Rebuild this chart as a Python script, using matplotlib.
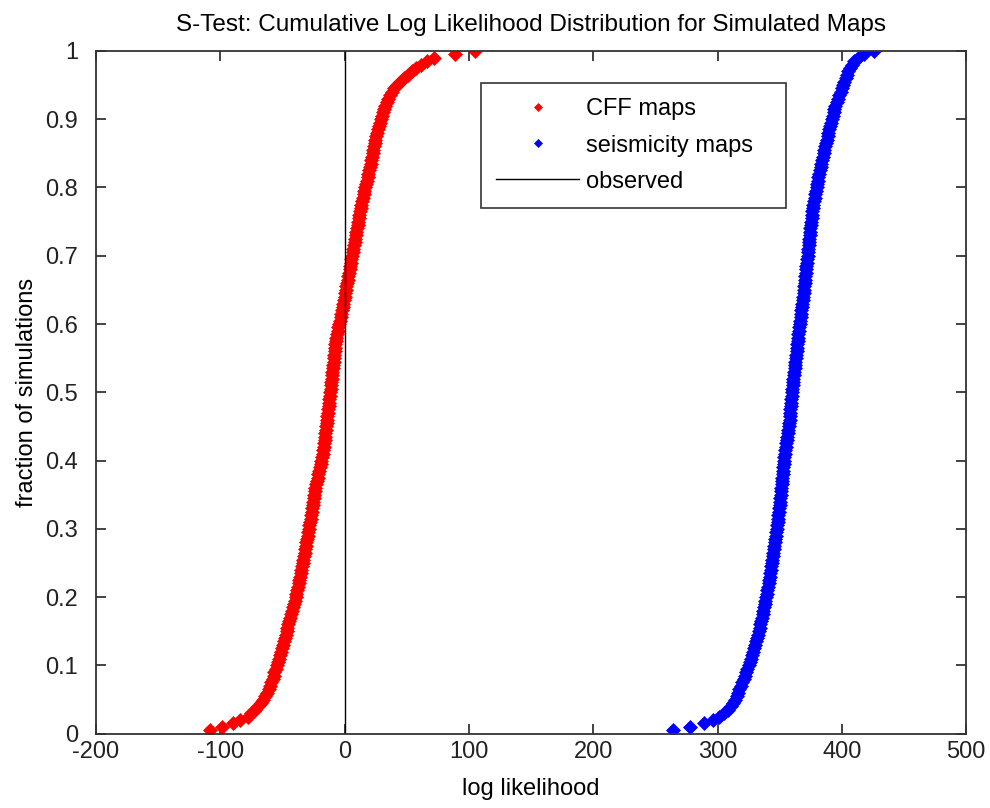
import numpy as np
import matplotlib.pyplot as plt

plt.rcParams['font.family'] = ['Liberation Sans', 'DejaVu Sans']
plt.rcParams['axes.unicode_minus'] = False

# sorted log likelihoods of the simulated catalogues (200 each)
cff_ll = [
    -108, -99, -90, -84, -78, -75, -72, -70, -67.5, -65.5,
    -64, -62.5, -61, -60, -59, -58, -57, -56.5, -55.5, -54.5,
    -53.5, -52.5, -51.8, -51, -50.2, -49.5, -48.8, -48, -47.3, -46.6,
    -46, -45.3, -44.6, -43.9, -43.2, -42.5, -41.8, -41, -40.3, -39.5,
    -38.8, -38, -37.5, -37, -36.4, -35.9, -35.3, -34.8, -34.2, -33.7,
    -33.2, -32.8, -32.3, -31.8, -31.3, -30.8, -30.3, -29.8, -29.3, -28.8,
    -28.3, -27.9, -27.4, -27, -26.6, -26.1, -25.7, -25.3, -24.9, -24.5,
    -24.1, -23.5, -22.9, -22.3, -21.7, -21.1, -20.5, -19.9, -19.3, -18.7,
    -18.2, -17.7, -17.3, -16.9, -16.5, -16.1, -15.8, -15.5, -15.1, -14.8,
    -14.5, -14.2, -13.9, -13.6, -13.2, -12.9, -12.6, -12.3, -12, -11.6,
    -11.3, -11, -10.7, -10.4, -10.1, -9.8, -9.5, -9.2, -8.9, -8.6,
    -8.3, -8, -7.7, -7.4, -7.1, -6.6, -6.1, -5.5, -5, -4.4,
    -3.9, -3.3, -2.8, -2.2, -1.7, -1.2, -0.6, -0.1, 0.4, 0.9,
    1.4, 1.9, 2.5, 3, 3.5, 4, 4.5, 5, 5.5, 6,
    6.5, 7, 7.5, 8, 8.4, 8.9, 9.4, 9.9, 10.4, 10.9,
    11.4, 11.9, 12.4, 12.9, 13.4, 14, 14.6, 15.3, 15.9, 16.5,
    17.2, 17.8, 18.5, 19.1, 19.8, 20.3, 20.9, 21.4, 22, 22.5,
    23.1, 23.6, 24.2, 24.7, 25.4, 26.1, 26.8, 27.6, 28.3, 29.1,
    30, 30.8, 31.6, 32.5, 33.8, 35.2, 36.6, 38.2, 39.8, 42,
    44.8, 47.6, 50.6, 53.8, 57.5, 61.5, 66, 72, 89, 105,
]

seis_ll = [
    264, 278, 289, 296, 301, 305, 308, 310.5, 312.5, 314,
    315.3, 316.5, 317.6, 318.8, 319.9, 321, 322, 323, 324, 325,
    325.9, 326.8, 327.7, 328.5, 329.3, 330.1, 330.8, 331.6, 332.3, 333,
    333.7, 334.4, 335.1, 335.7, 336.3, 336.9, 337.5, 338, 338.5, 339,
    339.5, 340, 340.5, 341, 341.4, 341.9, 342.3, 342.8, 343.2, 343.6,
    344, 344.4, 344.8, 345.2, 345.6, 346, 346.4, 346.8, 347.2, 347.6,
    348, 348.3, 348.6, 348.9, 349.2, 349.5, 349.8, 350.1, 350.4, 350.7,
    351, 351.3, 351.5, 351.8, 352.1, 352.4, 352.6, 352.9, 353.2, 353.5,
    353.8, 354.2, 354.6, 355, 355.4, 355.8, 356.2, 356.6, 357, 357.3,
    357.6, 357.9, 358.1, 358.4, 358.6, 358.9, 359.1, 359.4, 359.6, 359.9,
    360.1, 360.4, 360.7, 361, 361.3, 361.6, 361.9, 362.2, 362.6, 362.9,
    363.2, 363.5, 363.8, 364.1, 364.4, 364.7, 365, 365.3, 365.7, 366,
    366.4, 366.7, 367.1, 367.4, 367.8, 368.1, 368.4, 368.8, 369.1, 369.4,
    369.7, 370.1, 370.4, 370.7, 371, 371.3, 371.5, 371.8, 372.1, 372.4,
    372.6, 372.9, 373.2, 373.5, 373.8, 374.1, 374.4, 374.7, 375, 375.3,
    375.6, 375.9, 376.2, 376.5, 377, 377.5, 378, 378.6, 379.1, 379.6,
    380.1, 380.6, 381.1, 381.6, 382.2, 382.8, 383.4, 384.1, 384.7, 385.3,
    385.9, 386.6, 387.2, 387.8, 388.5, 389.2, 389.9, 390.6, 391.2, 391.9,
    392.6, 393.3, 394, 394.8, 395.8, 396.9, 398, 399, 400, 401,
    402, 403, 404, 405.2, 406.6, 408.2, 410, 413, 418, 426,
]

observed_ll = 0

# empirical CDF: fraction of simulations at or below each value
cff_frac = np.arange(1, len(cff_ll) + 1) / len(cff_ll)
seis_frac = np.arange(1, len(seis_ll) + 1) / len(seis_ll)

fig = plt.figure(figsize=(9.9, 8.08), dpi=100)
ax = fig.add_axes([0.097, 0.092, 0.879, 0.845])

ax.plot(cff_ll, cff_frac, 'D', color='red', markersize=7.5, markeredgewidth=0.5,
        label='CFF maps')
ax.plot(seis_ll, seis_frac, 'D', color='blue', markersize=7.5, markeredgewidth=0.5,
        label='seismicity maps')
ax.axvline(observed_ll, color='black', linewidth=1.0, label='observed')

ax.set_xlim(-200, 500)
ax.set_ylim(0, 1)
ax.set_xticks(np.arange(-200, 501, 100))
ax.set_yticks(np.arange(0, 1.01, 0.1))
ax.set_yticklabels(['0', '0.1', '0.2', '0.3', '0.4', '0.5', '0.6', '0.7', '0.8', '0.9', '1'])

ax.tick_params(direction='in', length=7, width=1.2, top=True, right=True,
               labelsize=17, colors='#222222')
ax.tick_params(axis='x', pad=5)
ax.tick_params(axis='y', pad=13)
for s in ax.spines.values():
    s.set_linewidth(1.3)
    s.set_color('#333333')

ax.set_title('S-Test: Cumulative Log Likelihood Distribution for Simulated Maps',
             fontsize=17.5, pad=14)
ax.set_xlabel('log likelihood', fontsize=17, labelpad=11)
ax.set_ylabel('fraction of simulations', fontsize=17, labelpad=5)

leg = ax.legend(loc='upper left', bbox_to_anchor=(0.4425, 0.7745, 0.35, 0.1785),
                mode='expand', borderaxespad=0, fontsize=17, frameon=True,
                fancybox=False, edgecolor='black', handlelength=3.5,
                markerscale=0.6, borderpad=0.65, labelspacing=0.6,
                handletextpad=0.3)
leg.get_frame().set_linewidth(1.2)

fig.savefig('out.png', dpi=100, facecolor='white')
